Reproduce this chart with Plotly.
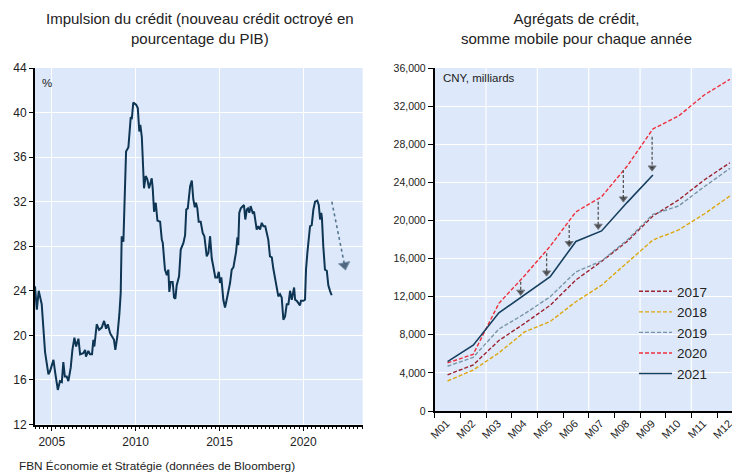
import plotly.graph_objects as go

# ---------------- Left panel data: credit impulse (% of GDP) ----------------
impulse_years = [
    2004.00, 2004.11, 2004.22, 2004.40, 2004.60, 2004.80, 2004.90, 2005.10, 2005.20, 2005.36,
    2005.49, 2005.60, 2005.69, 2005.78, 2005.89, 2005.99, 2006.13, 2006.23, 2006.35, 2006.45,
    2006.59, 2006.69, 2006.88, 2006.99, 2007.04, 2007.18, 2007.28, 2007.40, 2007.48, 2007.54,
    2007.68, 2007.82, 2007.98, 2008.12, 2008.24, 2008.34, 2008.48, 2008.61, 2008.71, 2008.79,
    2008.91, 2009.03, 2009.11, 2009.17, 2009.27, 2009.43, 2009.57, 2009.71, 2009.77, 2009.86,
    2010.03, 2010.13, 2010.22, 2010.28, 2010.37, 2010.50, 2010.60, 2010.70, 2010.80, 2010.96,
    2011.02, 2011.10, 2011.20, 2011.30, 2011.46, 2011.56, 2011.62, 2011.70, 2011.75, 2011.86,
    2011.95, 2012.01, 2012.09, 2012.21, 2012.29, 2012.37, 2012.45, 2012.59, 2012.69, 2012.85,
    2012.95, 2013.02, 2013.11, 2013.25, 2013.35, 2013.44, 2013.53, 2013.60, 2013.68, 2013.76,
    2013.88, 2014.00, 2014.10, 2014.24, 2014.34, 2014.44, 2014.54, 2014.63, 2014.75, 2014.87,
    2014.96, 2015.03, 2015.11, 2015.23, 2015.33, 2015.43, 2015.63, 2015.73, 2015.83, 2015.99,
    2016.07, 2016.12, 2016.18, 2016.27, 2016.39, 2016.46, 2016.54, 2016.63, 2016.70, 2016.78,
    2016.86, 2016.98, 2017.06, 2017.14, 2017.22, 2017.32, 2017.42, 2017.52, 2017.62, 2017.73,
    2017.82, 2017.91, 2018.01, 2018.12, 2018.21, 2018.41, 2018.51, 2018.61, 2018.71, 2018.81,
    2018.91, 2019.01, 2019.11, 2019.21, 2019.31, 2019.45, 2019.51, 2019.61, 2019.70, 2019.80,
    2019.86, 2020.00, 2020.10, 2020.16, 2020.24, 2020.32, 2020.40, 2020.50, 2020.60, 2020.70,
    2020.83, 2020.92, 2021.00, 2021.07, 2021.11, 2021.19, 2021.29, 2021.40, 2021.49, 2021.59,
    2021.69,
]
impulse_values = [
    24.4, 22.3, 24.0, 22.8, 18.5, 16.5, 16.8, 17.8, 16.7, 15.1,
    15.9, 15.8, 17.6, 16.3, 16.3, 15.9, 17.1, 18.7, 19.8, 19.0,
    19.7, 18.3, 18.4, 18.7, 18.1, 18.6, 18.3, 18.3, 19.6, 19.0,
    21.0, 20.5, 20.7, 21.3, 20.6, 21.0, 20.2, 19.8, 19.6, 18.7,
    19.9, 21.9, 23.8, 28.9, 28.4, 36.5, 36.9, 39.6, 39.4, 40.9,
    40.7, 40.4, 38.3, 38.9, 37.8, 33.2, 34.3, 34.0, 33.2, 34.1,
    33.2, 31.1, 31.9, 30.3, 30.2, 28.6, 28.3, 26.8, 25.9, 25.4,
    25.9, 23.9, 24.8, 24.8, 23.4, 23.3, 24.5, 25.3, 27.7, 28.3,
    29.0, 31.3, 31.4, 33.4, 33.9, 32.2, 31.5, 31.9, 31.4, 30.2,
    30.2, 29.2, 28.9, 27.1, 27.4, 28.9, 26.9, 26.2, 25.2, 25.2,
    25.7, 24.7, 25.2, 23.2, 22.5, 23.2, 24.7, 25.9, 26.1, 27.5,
    28.8, 28.1, 31.0, 31.4, 31.6, 31.7, 30.4, 31.3, 31.4, 31.0,
    31.6, 31.0, 31.1, 30.4, 29.5, 29.8, 29.5, 30.1, 29.8, 29.8,
    29.3, 28.6, 27.1, 27.0, 26.0, 24.4, 23.5, 23.7, 23.4, 21.4,
    21.7, 22.8, 22.8, 24.0, 23.2, 24.3, 23.2, 23.1, 22.9, 22.7,
    23.1, 23.1, 23.2, 25.9, 27.4, 29.0, 29.8, 29.9, 31.3, 32.0,
    32.1, 31.7, 30.4, 31.0, 30.5, 28.0, 25.9, 25.8, 24.5, 24.0,
    23.6,
]
trend_arrow_years = [2021.70, 2022.46]
trend_arrow_values = [32.0, 26.3]
left_year_ticks = [2005, 2010, 2015, 2020]

# ---------------- Right panel data: cumulative credit aggregates ----------------
months = ["M01", "M02", "M03", "M04", "M05", "M06", "M07", "M08", "M09", "M10", "M11", "M12"]
series_2017 = [3800, 4830, 7400, 9200, 11100, 13750, 15700, 17800, 20470, 22150, 24250, 26060]
series_2018 = [3150, 4300, 6100, 8300, 9400, 11470, 13200, 15600, 17950, 19000, 20680, 22570]
series_2019 = [4700, 5630, 8600, 10200, 12000, 14600, 15750, 17950, 20640, 21520, 23540, 25470]
series_2020 = [5050, 5950, 11300, 14200, 17300, 20900, 22490, 25715, 29600, 30960, 33170, 34815]
series_2021 = [5180, 6900, 10300, 12200, 14100, 17800, 18900, 21900, 24770]

arrow_pos = [3.85, 4.86, 5.74, 6.87, 7.85, 8.97]
arrow_from = [13570, 16550, 19520, 21970, 25300, 28790]
arrow_to = [12500, 14520, 17600, 19420, 22290, 25540]

FONT = "Liberation Sans, Arial, sans-serif"
BG = "#DDE9FA"
TXT = "#222222"

fig = go.Figure()

# Left panel
fig.add_trace(go.Scatter(
    x=impulse_years, y=impulse_values, mode="lines",
    line=dict(color="#0E3553", width=2), showlegend=False,
    xaxis="x", yaxis="y", hoverinfo="skip"))
fig.add_trace(go.Scatter(
    x=trend_arrow_years, y=trend_arrow_values, mode="lines+markers",
    line=dict(color="#56768F", width=1.6, dash="dot"),
    marker=dict(symbol="triangle-up", size=[0, 10], angleref="previous",
                color="#17324D"),
    showlegend=False, xaxis="x", yaxis="y", hoverinfo="skip"))

# Right panel
month_idx = list(range(1, len(months) + 1))
styles = [
    ("2017", series_2017, "#9B2430"),
    ("2018", series_2018, "#DDA60F"),
    ("2019", series_2019, "#7895A8"),
    ("2020", series_2020, "#EE2F3B"),
]
for name, vals, col in styles:
    fig.add_trace(go.Scatter(
        x=month_idx[:len(vals)], y=vals, mode="lines", name=name,
        line=dict(color=col, width=1.4, dash="4px,2px"),
        xaxis="x2", yaxis="y2", hoverinfo="skip"))
fig.add_trace(go.Scatter(
    x=month_idx[:len(series_2021)], y=series_2021, mode="lines", name="2021",
    line=dict(color="#173F5F", width=1.6),
    xaxis="x2", yaxis="y2", hoverinfo="skip"))

ax, ay, asz = [], [], []
for p, a, b in zip(arrow_pos, arrow_from, arrow_to):
    ax += [p, p, None]
    ay += [a, b, None]
    asz += [0, 7, 0]
fig.add_trace(go.Scatter(
    x=ax, y=ay, mode="lines+markers",
    line=dict(color="#555555", width=1.3, dash="3px,2px"),
    marker=dict(symbol="triangle-down", size=asz, color="#111111"),
    showlegend=False, xaxis="x2", yaxis="y2", hoverinfo="skip", connectgaps=False))

# The page body adds an 8px offset; the figure is sized to fill the rest of the window.
OFF = 8
FW, FH = 740 - OFF, 472 - OFF
def px(v):
    return (v - OFF) / FW
def py(v):
    return 1 - (v - OFF) / FH

grid_shapes = []
for b in range(2, 12, 2):
    grid_shapes.append(dict(type="line", xref="x2", yref="paper",
                            x0=b + 0.5, x1=b + 0.5, y0=py(411), y1=py(68),
                            line=dict(color="white", width=1.2), layer="below"))

fig.update_layout(
    width=FW, height=FH,
    margin=dict(l=0, r=0, t=0, b=0, autoexpand=False),
    paper_bgcolor="white", plot_bgcolor=BG,
    font=dict(family=FONT, color=TXT, size=12),
    xaxis=dict(domain=[px(35), px(362.7)], anchor="y", automargin=False,
               range=[2004.0, 2023.54],
               tickmode="array", tickvals=left_year_ticks,
               ticktext=[str(v) for v in left_year_ticks],
               ticks="outside", ticklen=5, tickcolor="black", tickwidth=1,
               minor=dict(dtick=0.25, tick0=2004, ticks="outside", ticklen=3,
                          tickcolor="black", showgrid=False),
               showgrid=True, gridcolor="white", gridwidth=1.2,
               showline=True, linecolor="black", linewidth=1.5,
               zeroline=False, tickfont=dict(size=12, color=TXT)),
    yaxis=dict(domain=[py(424.5), py(68)], anchor="x", automargin=False,
               range=[12, 44], dtick=4, tick0=12,
               ticks="outside", ticklen=4, tickcolor="black",
               showgrid=True, gridcolor="white", gridwidth=1.2,
               showline=True, linecolor="black", linewidth=1.8,
               zeroline=False, tickfont=dict(size=12, color=TXT)),
    xaxis2=dict(domain=[px(434.7), 1.0], anchor="y2", automargin=False,
                range=[0.5, 0.5 + (740 - 434.7) / 25.67],
                tickmode="array", tickvals=month_idx, ticktext=months,
                tickangle=-45, ticks="", ticklabelshift=-1,
                minor=dict(tickmode="array",
                           tickvals=[i + 0.5 for i in range(0, 13)],
                           ticks="outside", ticklen=5, tickcolor="black",
                           showgrid=False),
                showgrid=False, showline=True, linecolor="black", linewidth=1.5,
                zeroline=False, tickfont=dict(size=11, color=TXT)),
    yaxis2=dict(domain=[py(411), py(68)], anchor="x2", automargin=False,
                range=[0, 36000], dtick=4000, tickformat=",d",
                ticks="outside", ticklen=5, tickcolor="black",
                showgrid=True, gridcolor="white", gridwidth=1.2,
                showline=True, linecolor="black", linewidth=1.8,
                zeroline=False, tickfont=dict(size=10.5, color=TXT)),
    legend=dict(x=px(634), y=py(276), xanchor="left", yanchor="top",
                bgcolor="rgba(0,0,0,0)", borderwidth=0,
                font=dict(size=13.5, color=TXT), tracegroupgap=0,
                itemwidth=33),
    shapes=grid_shapes,
    annotations=[
        dict(text="Impulsion du crédit (nouveau crédit octroyé en<br>pourcentage du PIB)",
             x=px(200), y=py(28.5), xref="paper", yref="paper",
             xanchor="center", yanchor="middle", showarrow=False,
             font=dict(size=15, color=TXT)),
        dict(text="Agrégats de crédit,<br>somme mobile pour chaque année",
             x=px(576), y=py(28), xref="paper", yref="paper",
             xanchor="center", yanchor="middle", showarrow=False,
             font=dict(size=15, color=TXT)),
        dict(text="%", x=px(46.7), y=py(82.7), xref="paper", yref="paper",
             xanchor="center", yanchor="middle", showarrow=False,
             font=dict(size=11.5, color=TXT)),
        dict(text="CNY, milliards", x=px(441), y=py(77.7), xref="paper", yref="paper",
             xanchor="left", yanchor="middle", showarrow=False,
             font=dict(size=11.5, color=TXT)),
        dict(text="FBN Économie et Stratégie (données de Bloomberg)",
             x=px(17), y=py(465.5), xref="paper", yref="paper",
             xanchor="left", yanchor="middle", showarrow=False,
             font=dict(size=11.8, color=TXT)),
    ],
)

fig.write_html("out.html")
